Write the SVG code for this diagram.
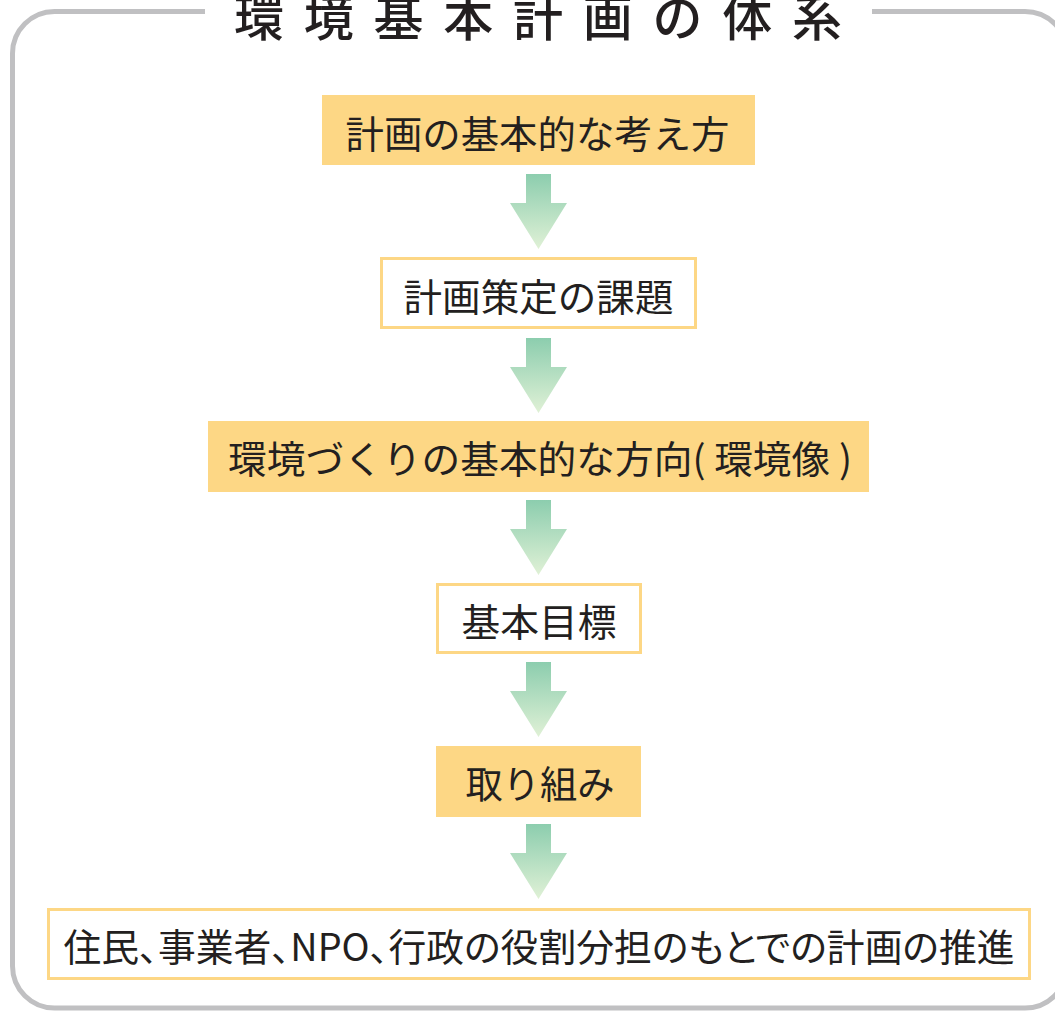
<svg xmlns="http://www.w3.org/2000/svg" width="1055" height="1015" viewBox="0 0 1055 1015">
  <style>
    .lbl { font-family: "Noto Sans CJK JP", "Noto Sans", sans-serif; font-size: 38px; fill: #231f20; text-anchor: middle; }
    .title { font-family: "Noto Sans CJK JP", "Noto Sans", sans-serif; font-size: 50px; font-weight: 500; fill: #231f20; text-anchor: middle; }
    .filled { fill: #fdd785; }
    .outlined { fill: #ffffff; stroke: #fdd785; stroke-width: 3; }
    .frame { fill: none; stroke: #c0c0c2; stroke-width: 5; }
  </style>
  <defs>
    <linearGradient id="arrowGrad" x1="0" y1="0" x2="0" y2="1">
      <stop offset="0" stop-color="#8ccdae"/>
      <stop offset="1" stop-color="#e0f1d6"/>
    </linearGradient>
    <path id="arrow" d="M-12.5,0 H12.5 V29 H28.5 L0,75 L-28.5,29 H-12.5 Z" fill="url(#arrowGrad)"/>
  </defs>
  <rect width="1055" height="1015" fill="#ffffff"/>

  <g id="frame">
    <rect class="frame" x="12.5" y="11.5" width="1054.5" height="996.5" rx="42" ry="42"/>
    <rect x="205" y="0" width="667" height="22" fill="#ffffff"/>
    <text class="title" y="36" x="259 328.75 398.5 468.25 538 607.75 677.5 747.25 817">環境基本計画の体系</text>
  </g>

  <g id="connectors">
    <use href="#arrow" x="538.5" y="174"/>
    <use href="#arrow" x="538.5" y="338"/>
    <use href="#arrow" x="538.5" y="500"/>
    <use href="#arrow" x="538.5" y="662"/>
    <use href="#arrow" x="538.5" y="824"/>
  </g>

  <g id="node-basic-idea">
    <rect class="filled" x="322" y="95" width="433" height="70"/>
    <text class="lbl" x="537.5" y="147.5" textLength="384" lengthAdjust="spacingAndGlyphs">計画の基本的な考え方</text>
  </g>

  <g id="node-issues">
    <rect class="outlined" x="381.5" y="258.5" width="314" height="69"/>
    <text class="lbl" x="538.5" y="310.5" textLength="270" lengthAdjust="spacingAndGlyphs">計画策定の課題</text>
  </g>

  <g id="node-direction">
    <rect class="filled" x="208" y="421" width="661" height="71"/>
    <text class="lbl" x="540" y="472.5" textLength="624" lengthAdjust="spacingAndGlyphs">環境づくりの基本的な方向( 環境像 )</text>
  </g>

  <g id="node-goals">
    <rect class="outlined" x="437.5" y="584.5" width="203" height="68"/>
    <text class="lbl" x="539" y="635.5" textLength="155" lengthAdjust="spacingAndGlyphs">基本目標</text>
  </g>

  <g id="node-actions">
    <rect class="filled" x="436" y="746" width="205" height="71"/>
    <text class="lbl" x="540" y="797.5" textLength="149" lengthAdjust="spacingAndGlyphs">取り組み</text>
  </g>

  <g id="node-promotion">
    <rect class="outlined" x="48.5" y="909.5" width="981" height="69"/>
    <text class="lbl" x="539" y="960.5" textLength="951" lengthAdjust="spacingAndGlyphs" style="font-feature-settings: 'palt';">住民、事業者、NPO、行政の役割分担のもとでの計画の推進</text>
  </g>
</svg>
